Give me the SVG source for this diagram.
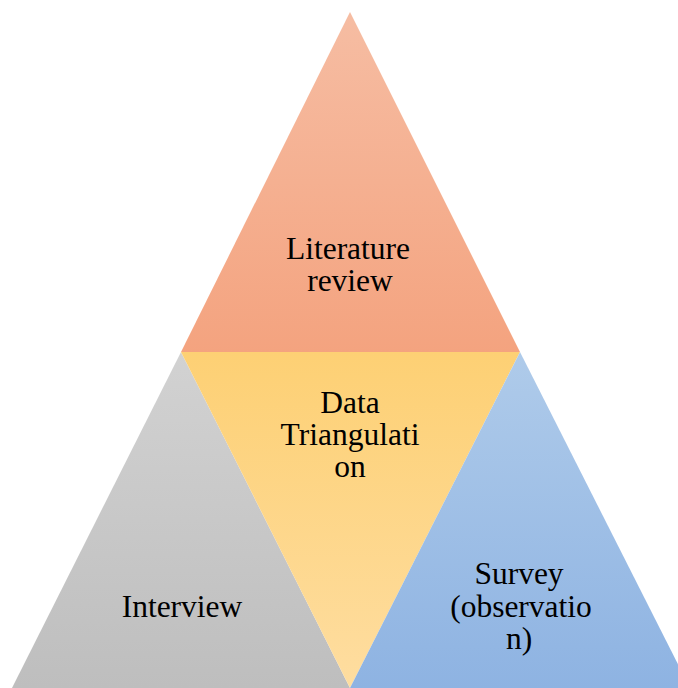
<svg xmlns="http://www.w3.org/2000/svg" width="678" height="688" viewBox="0 0 678 688">
  <defs>
    <linearGradient id="gOrange" x1="0" y1="0" x2="0" y2="1">
      <stop offset="0" stop-color="#F6BDA3"/>
      <stop offset="1" stop-color="#F4A37F"/>
    </linearGradient>
    <linearGradient id="gYellow" x1="0" y1="0" x2="0" y2="1">
      <stop offset="0" stop-color="#FDD074"/>
      <stop offset="1" stop-color="#FEDDA0"/>
    </linearGradient>
    <linearGradient id="gGray" x1="0" y1="0" x2="0" y2="1">
      <stop offset="0" stop-color="#D2D2D2"/>
      <stop offset="1" stop-color="#BEBEBE"/>
    </linearGradient>
    <linearGradient id="gBlue" x1="0" y1="0" x2="0" y2="1">
      <stop offset="0" stop-color="#AFCBEA"/>
      <stop offset="1" stop-color="#8EB3E2"/>
    </linearGradient>
  </defs>
  <style>
    .label { font-family: "Liberation Serif", "Times New Roman", serif; font-size: 31.5px; fill: #000; text-anchor: middle; }
  </style>
  <rect width="678" height="688" fill="#FFFFFF"/>

  <g id="literature-review">
    <polygon points="350,12 520,352 181,352" fill="url(#gOrange)"/>
    <text class="label" x="348" y="259">Literature</text>
    <text class="label" x="350" y="291">review</text>
  </g>

  <g id="interview">
    <polygon points="181,352 350,688 12,688" fill="url(#gGray)"/>
    <text class="label" x="182" y="617">Interview</text>
  </g>

  <g id="data-triangulation">
    <polygon points="181,352 520,352 350,688" fill="url(#gYellow)"/>
    <text class="label" x="350" y="413">Data</text>
    <text class="label" x="350" y="445">Triangulati</text>
    <text class="label" x="350" y="477">on</text>
  </g>

  <g id="survey">
    <polygon points="520,352 690,688 350,688" fill="url(#gBlue)"/>
    <text class="label" x="519" y="584">Survey</text>
    <text class="label" x="521" y="617">(observatio</text>
    <text class="label" x="519" y="649">n)</text>
  </g>

  <g id="connectors"/>
</svg>
